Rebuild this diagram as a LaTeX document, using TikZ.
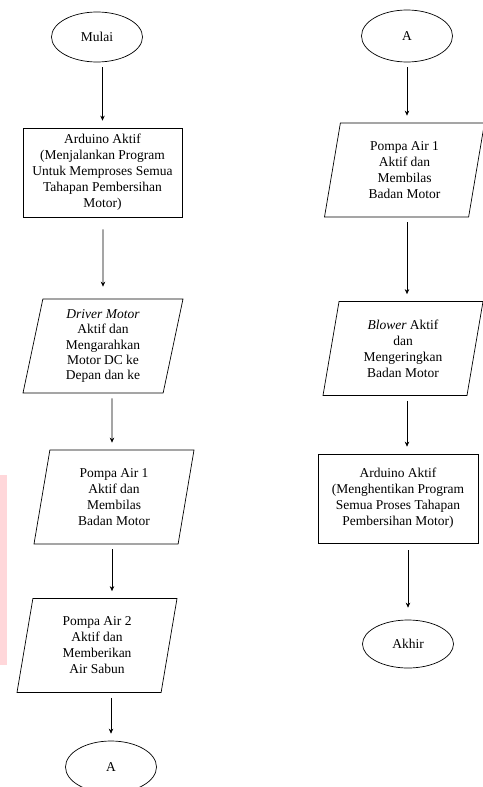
\documentclass[tikz,border=0pt]{standalone}
\usepackage{fontspec}
\setmainfont{Liberation Serif}
\usepackage{tikz}
\usetikzlibrary{shapes.geometric,arrows.meta}
\definecolor{wmpink}{HTML}{FFD7DA}

\begin{document}
\begin{tikzpicture}[x=1pt,y=-1pt,line width=0.7pt,
	font=\fontsize{13.5}{16}\selectfont,
	term/.style={draw,ellipse,minimum width=91,minimum height=50},
	proc/.style={draw,rectangle,minimum width=159,minimum height=89,align=center},
	io/.style={draw,trapezium,trapezium left angle=76,trapezium right angle=104,
		trapezium stretches body,minimum width=160,minimum height=94,align=center}]
	\useasboundingbox (0,0) rectangle (482,787);
	\fill[wmpink] (0,475) rectangle (7,665);
	
	\node[term] (mulai) at (97,37) {Mulai};
	\node[proc] (ard1) at (102.5,172.5) {Arduino Aktif\\(Menjalankan Program\\Untuk Memproses Semua\\Tahapan Pembersihan\\Motor)};
	\node[io,font=\fontsize{13.5}{15.3}\selectfont] (driver) at (103,346) {\textit{Driver Motor}\\Aktif dan\\Mengarahkan\\Motor DC ke\\Depan dan ke};
	\node[io] (pompaa) at (114,497) {Pompa Air 1\\Aktif dan\\Membilas\\Badan Motor};
	\node[io] (pompab) at (97,645.5) {Pompa Air 2\\Aktif dan\\Memberikan\\Air Sabun};
	\node[term,minimum height=52] (ka) at (111,767) {A};
	
	\node[term,minimum height=52] (kb) at (407,36) {A};
	\node[io] (pompac) at (404.5,170) {Pompa Air 1\\Aktif dan\\Membilas\\Badan Motor};
	\node[io] (blower) at (403,348.5) {\textit{Blower} Aktif\\dan\\Mengeringkan\\Badan Motor};
	\node[proc,minimum width=160] (ard2) at (398,498.5) {Arduino Aktif\\(Menghentikan Program\\Semua Proses Tahapan\\Pembersihan Motor)};
	\node[term,minimum height=48] (akhir) at (408,644) {Akhir};
	
	\path[-{Stealth[length=5pt,width=4.5pt]},shorten <=5pt,shorten >=7pt]
	(ard1 |- mulai.south) edge (ard1.north)
	(driver |- ard1.south) edge[shorten <=12pt,shorten >=12pt] (driver.north)
	([xshift=-2pt]pompaa.center |- driver.south) edge ([xshift=-2pt]pompaa.north)
	([xshift=-2pt]pompaa.center |- pompaa.south) edge ([xshift=-2pt]pompaa.center |- pompab.north)
	(ka |- pompab.south) edge (ka.north)
	(kb.south) edge (kb.south |- pompac.north)
	(kb.south |- pompac.south) edge (kb.south |- blower.north)
	(kb.south |- blower.south) edge (kb.south |- ard2.north)
	(akhir |- ard2.south) edge[shorten <=7pt,shorten >=12pt] (akhir.north);
	
\end{tikzpicture}
\end{document}
